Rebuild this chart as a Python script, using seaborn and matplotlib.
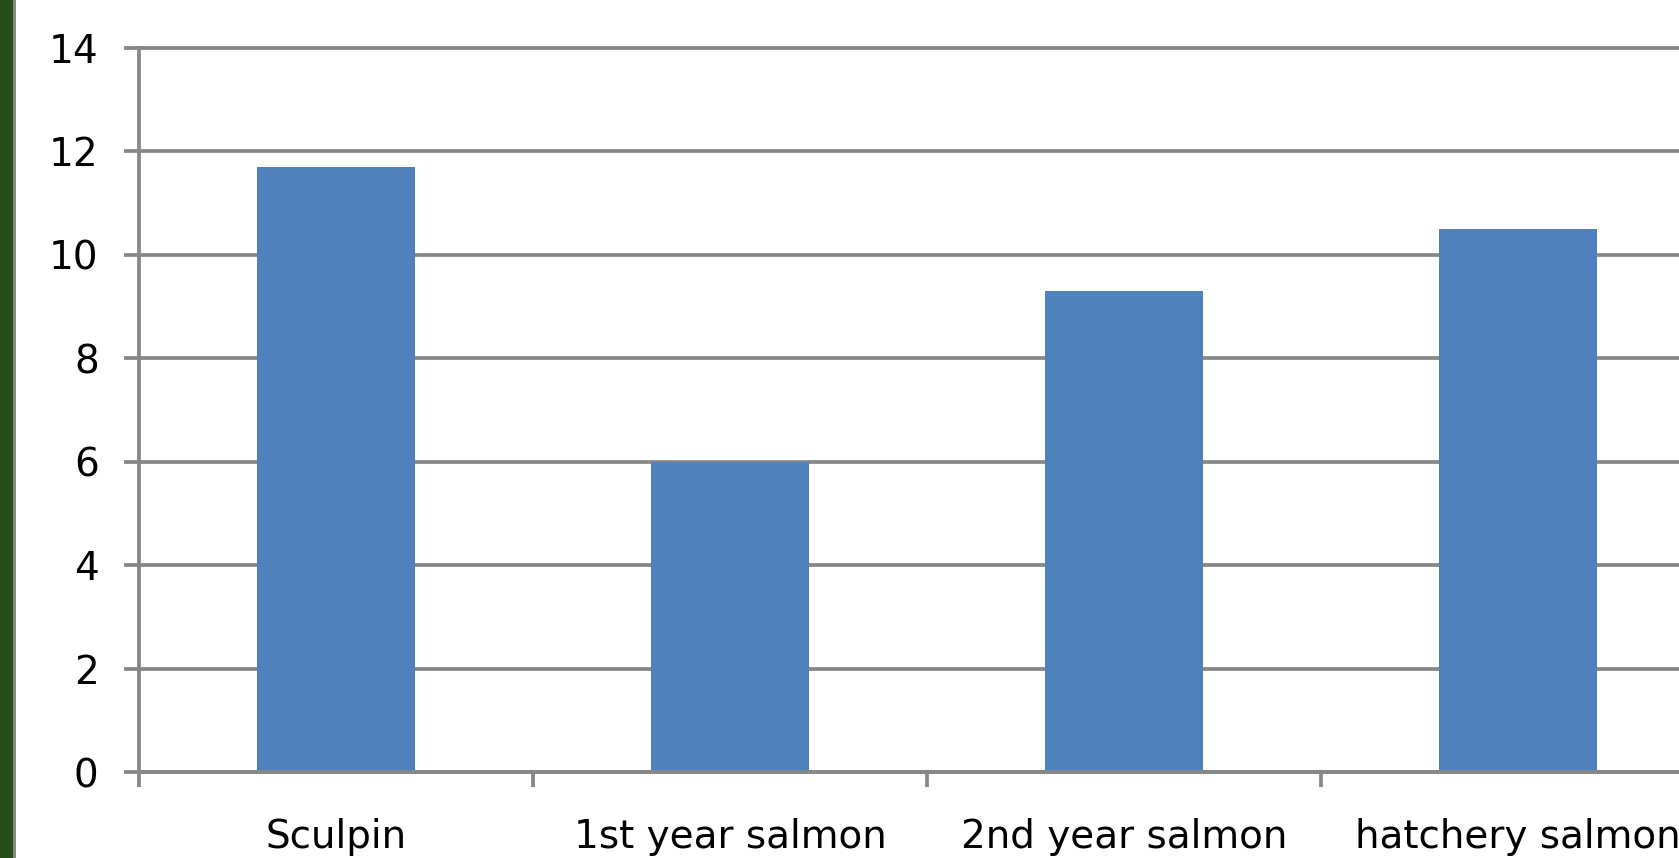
import numpy as np
import matplotlib
matplotlib.use("Agg")
import matplotlib.pyplot as plt
import seaborn as sns
from matplotlib.patches import Rectangle

# Fish groups and their values
groups = ['Sculpin', '1st year salmon', '2nd year salmon', 'hatchery salmon']
values = [11.7, 6.0, 9.3, 10.5]

sns.set_style('white')
plt.rcParams['font.family'] = ['DejaVu Sans']

grid_grey = '#878787'
bar_blue = '#4F81BD'

fig = plt.figure(figsize=(16.79, 8.58), dpi=100)
fig.patch.set_facecolor('white')

# dark green strip on the left edge (cropped window frame)
fig.patches.append(Rectangle((0, 0), 13 / 1679, 1, transform=fig.transFigure,
                             facecolor='#264D14', edgecolor='none'))
fig.patches.append(Rectangle((13 / 1679, 0), 3 / 1679, 1, transform=fig.transFigure,
                             facecolor=grid_grey, edgecolor='none'))

# axes run past the right edge of the picture
ax = fig.add_axes([139 / 1679, 86 / 858, 1 - 139 / 1679, 724 / 858])

sns.barplot(x=groups, y=values, color=bar_blue, saturation=1, width=0.4,
            linewidth=0, ax=ax)

ax.set_yticks(np.arange(0, 15, 2))
ax.set_axisbelow(True)
ax.yaxis.grid(True, color=grid_grey, linewidth=2.7)
for gl in ax.get_ygridlines():
    gl.set_clip_on(False)

# category boundary ticks
ax.set_xticks([-0.5, 0.5, 1.5, 2.5], minor=True)
ax.tick_params(axis='x', which='major', bottom=True, length=0, pad=33,
               labelsize=28, labelcolor='black')
ax.tick_params(axis='x', which='minor', bottom=True, length=11, width=2.7,
               color=grid_grey, direction='out')
ax.tick_params(axis='y', which='major', left=True, length=11, width=2.7, color=grid_grey,
               direction='out', pad=18, labelsize=28, labelcolor='black')

ax.set_ylim(0, 14)
ax.set_xlim(-0.5, -0.5 + (1679 - 139) / 394)

for side in ['top', 'right']:
    ax.spines[side].set_visible(False)
for side in ['left', 'bottom']:
    ax.spines[side].set_color(grid_grey)
    ax.spines[side].set_linewidth(2.7)

ax.set_xlabel('')
ax.set_ylabel('')

fig.savefig('out.png', dpi=100, facecolor='white')
